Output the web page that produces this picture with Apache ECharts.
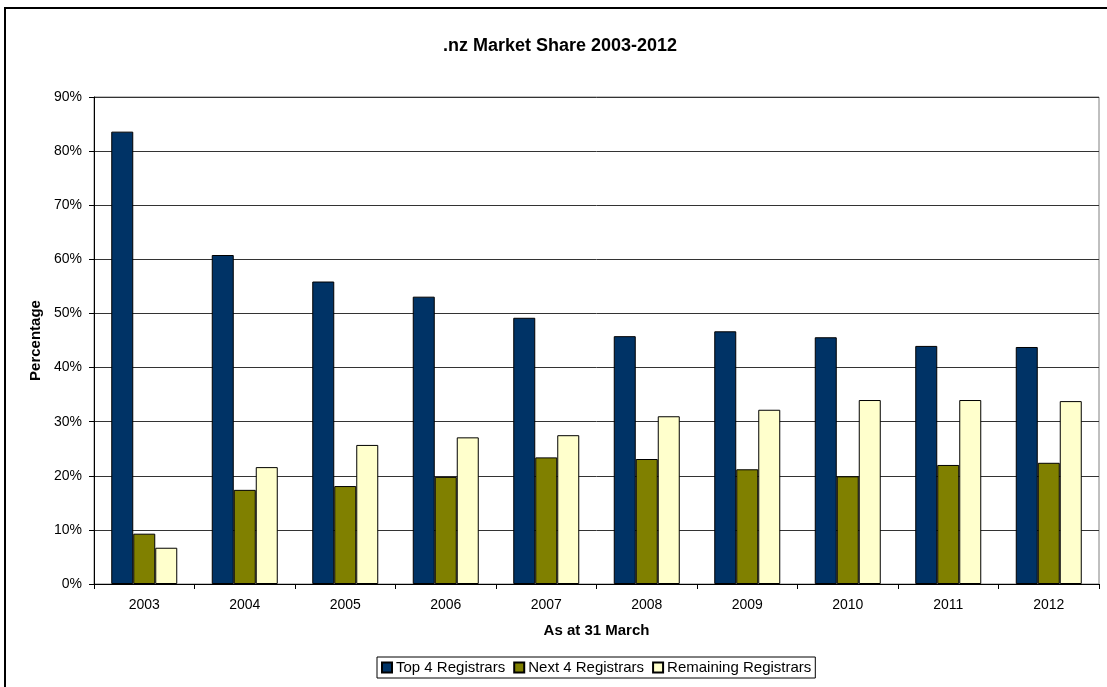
<!DOCTYPE html>
<html>
<head>
<meta charset="utf-8">
<script src="https://cdn.jsdelivr.net/npm/echarts@6/dist/echarts.min.js"></script>
<style>
  html, body { margin: 0; padding: 0; background: #fff; }
  #chart { width: 1107px; height: 687px; }
</style>
</head>
<body>
<div id="chart"></div>
<script>
// values, in percent
var years = ['2003', '2004', '2005', '2006', '2007', '2008', '2009', '2010', '2011', '2012'];
var top4 = [83.6, 60.8, 55.9, 53.1, 49.2, 45.8, 46.7, 45.6, 44.0, 43.8];
var next4 = [9.3, 17.4, 18.1, 19.8, 23.4, 23.1, 21.2, 19.9, 22.0, 22.4];
var remaining = [6.7, 21.6, 25.7, 27.1, 27.5, 31.0, 32.2, 34.0, 34.0, 33.8];
var seriesNames = ['Top 4 Registrars', 'Next 4 Registrars', 'Remaining Registrars'];

var font = '"Liberation Sans", Arial, sans-serif';

function makeBar(name, data, color) {
  return {
    name: name,
    type: 'bar',
    data: data,
    barWidth: 22,
    barGap: '0%',
    itemStyle: { color: color, borderColor: '#000', borderWidth: 1 }
  };
}

var chart = echarts.init(document.getElementById('chart'));
var option = {
  animation: false,
  textStyle: { fontFamily: font },
  title: {
    text: '.nz Market Share 2003-2012',
    left: 438,
    top: 32,
    textStyle: { fontFamily: font, fontSize: 18, fontWeight: 'bold', color: '#000' }
  },
  graphic: [{
    type: 'rect',
    shape: { x: 5, y: 8, width: 1120, height: 700 },
    style: { fill: 'none', stroke: '#000', lineWidth: 2 },
    silent: true
  }],
  legend: {
    data: seriesNames,
    left: 377,
    top: 657,
    padding: [3, 4, 3, 4],
    borderColor: '#000',
    borderWidth: 1,
    itemWidth: 10,
    itemHeight: 10,
    itemGap: 8,
    icon: 'rect',
    textStyle: { fontFamily: font, fontSize: 15, color: '#000', padding: [0, 0, 0, -1] }
  },
  grid: {
    left: 94,
    right: 8,
    top: 97,
    bottom: 103,
    show: true,
    borderColor: '#808080',
    borderWidth: 1
  },
  xAxis: {
    type: 'category',
    data: years,
    name: 'As at 31 March',
    nameLocation: 'middle',
    nameGap: 39,
    nameTextStyle: { fontFamily: font, fontSize: 15, fontWeight: 'bold', color: '#000' },
    axisLine: { lineStyle: { color: '#000', width: 1 } },
    axisTick: { show: true, length: 5, lineStyle: { color: '#000' } },
    axisLabel: { fontFamily: font, fontSize: 14, color: '#000', margin: 14 }
  },
  yAxis: {
    type: 'value',
    min: 0,
    max: 90,
    interval: 10,
    name: 'Percentage',
    nameLocation: 'middle',
    nameRotate: 90,
    nameGap: 49,
    nameTextStyle: { fontFamily: font, fontSize: 15, fontWeight: 'bold', color: '#000' },
    axisLine: { show: true, lineStyle: { color: '#000', width: 1 } },
    axisTick: { show: true, length: 5, lineStyle: { color: '#000' } },
    axisLabel: { fontFamily: font, fontSize: 14, color: '#000', margin: 12, formatter: '{value}%' },
    splitLine: { show: true, lineStyle: { color: '#333', width: 1 } }
  },
  series: [
    makeBar(seriesNames[0], top4, '#003366'),
    makeBar(seriesNames[1], next4, '#808000'),
    makeBar(seriesNames[2], remaining, '#FFFFCC')
  ]
};
chart.setOption(option);
</script>
</body>
</html>
